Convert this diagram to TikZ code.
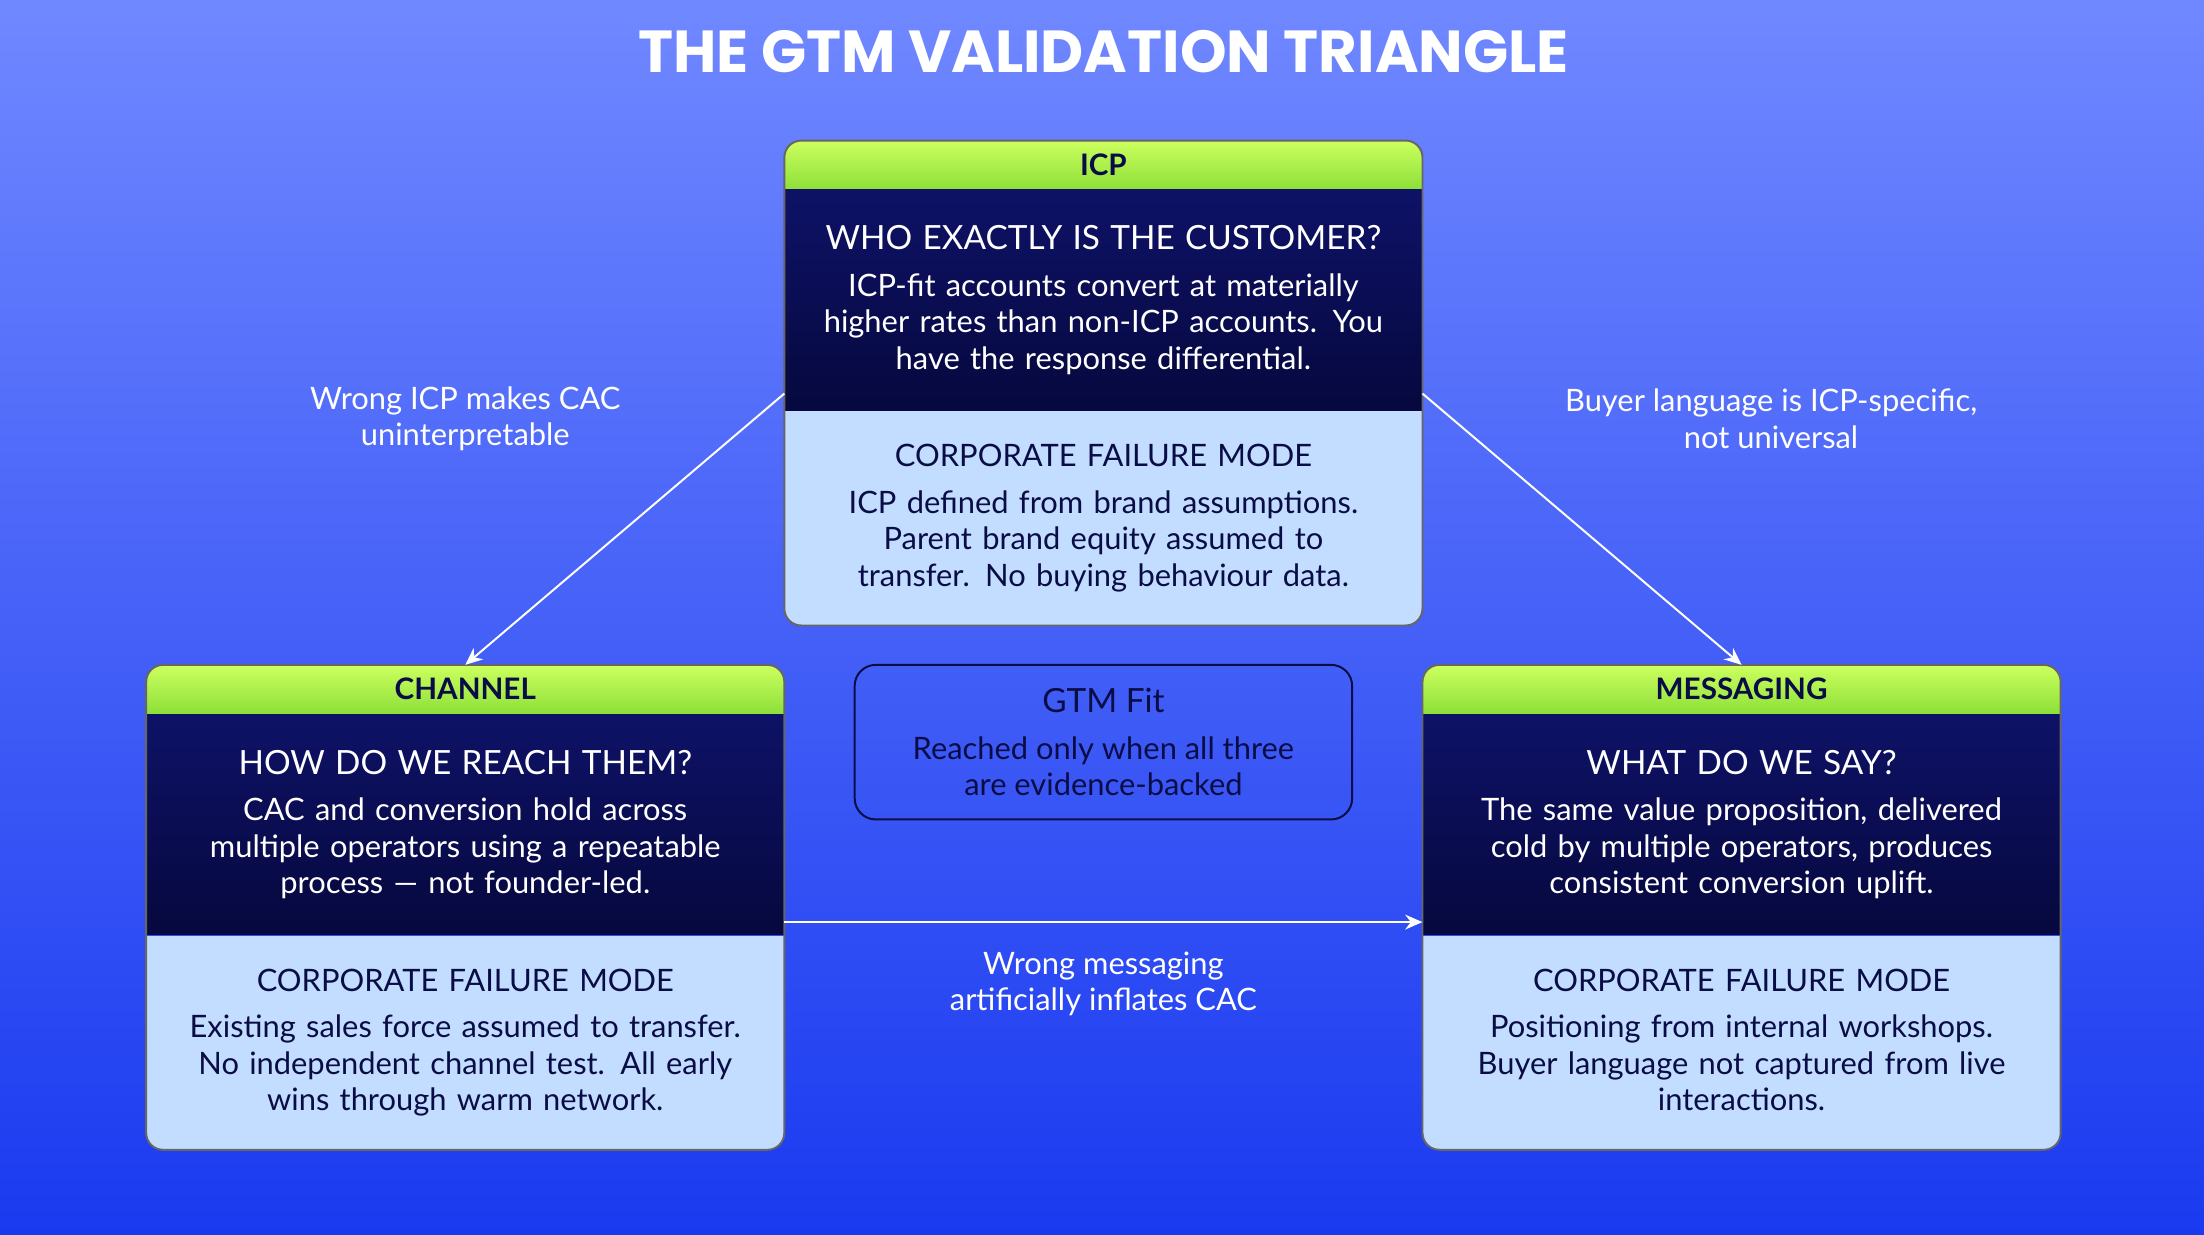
\documentclass[tikz,border=0pt]{standalone}
\usepackage{fontspec}
\setmainfont{Lato}
\newfontfamily\titlefont{Poppins}
\usetikzlibrary{arrows.meta}
\definecolor{bgtop}{HTML}{7088FF}
\definecolor{bgbot}{HTML}{1A3AF0}
\definecolor{headtop}{HTML}{CCFF5E}
\definecolor{headbot}{HTML}{8EE03A}
\definecolor{navytop}{HTML}{0E1266}
\definecolor{navybot}{HTML}{06083E}
\definecolor{pale}{HTML}{C2DDFF}
\definecolor{ink}{HTML}{0A0D45}
\tikzset{
  head/.style={anchor=north, minimum width=9.08cm, minimum height=0.68cm, inner sep=0pt,
               top color=headtop, bottom color=headbot, text=ink, font=\fontsize{12}{14}\selectfont\bfseries},
  quest/.style={anchor=north, minimum width=9.08cm, minimum height=3.14cm, inner sep=0pt,
                top color=navytop, bottom color=navybot, text=white, align=center, text width=8.8cm,
                font=\fontsize{12.5}{14.8}\selectfont},
  fail/.style={anchor=north, minimum width=9.08cm, minimum height=3.2cm, inner sep=0pt,
               fill=pale, text=ink, align=center, text width=8.8cm,
               font=\fontsize{12.5}{14.8}\selectfont},
  frame/.style={draw=black!60, line width=0.8pt, rounded corners=0.24cm},
  link/.style={draw=white, line width=0.8pt, -{Stealth[length=7pt,width=6pt]}},
  note/.style={text=white, align=center, font=\fontsize{12.5}{14.8}\selectfont}
}
% #1 name, #2 centre x, #3 top y, #4 header, #5 question, #6 body, #7 failure text
\newcommand\card[7]{%
  \begin{scope}
    \clip[rounded corners=0.24cm] (#2-227,#3) rectangle (#2+227,#3+345);
    \node[head] (#1-h) at (#2,#3) {#4};
    \node[quest] (#1-q) at (#1-h.south) {{\fontsize{13.5}{16}\selectfont #5}\\[4pt] #6};
    \node[fail] (#1-f) at (#1-q.south) {{\fontsize{12.5}{15}\selectfont CORPORATE FAILURE MODE}\\[4pt] #7\\[-8pt]\mbox{}};
  \end{scope}
  \draw[frame] (#2-227,#3) rectangle (#2+227,#3+345);
}
\begin{document}
\begin{tikzpicture}[x=0.02cm, y=-0.02cm]
  \shade[top color=bgtop, bottom color=bgbot] (0,0) rectangle (1568,878);
  \useasboundingbox (0,0) rectangle (1568,878);

  \node[text=white, font=\titlefont\fontsize{24}{26}\selectfont\bfseries] (title) at (785,37) {THE GTM VALIDATION TRIANGLE};

  \card{icp}{785}{100}{ICP}{WHO EXACTLY IS THE CUSTOMER?}
    {ICP-fit accounts convert at materially\\ higher rates than non-ICP accounts. You\\ have the response differential.}
    {ICP defined from brand assumptions.\\ Parent brand equity assumed to\\ transfer. No buying behaviour data.}
  \card{chan}{331}{473}{CHANNEL}{HOW DO WE REACH THEM?}
    {CAC and conversion hold across\\ multiple operators using a repeatable\\ process --- not founder-led.}
    {Existing sales force assumed to transfer.\\ No independent channel test. All early\\ wins through warm network.}
  \card{msg}{1239}{473}{MESSAGING}{WHAT DO WE SAY?}
    {The same value proposition, delivered\\ cold by multiple operators, produces\\ consistent conversion uplift.}
    {Positioning from internal workshops.\\ Buyer language not captured from live\\ interactions.}

  \node[draw=ink, line width=0.8pt, rounded corners=0.3cm, minimum width=7.08cm, minimum height=2.2cm,
        align=center, text=ink, font=\fontsize{12.5}{14.8}\selectfont] (fit) at (785,528)
        {{\fontsize{13.5}{16}\selectfont GTM Fit}\\[4pt] Reached only when all three\\ are evidence-backed};

  \coordinate (icp-l) at (558,280);
  \coordinate (icp-r) at (1012,280);
  \coordinate (chan-r) at (558,656);
  \coordinate (msg-l) at (1012,656);
  \draw[link] (icp-l) -- (chan-h.north);
  \draw[link] (icp-r) -- (msg-h.north);
  \draw[link] (chan-r) -- (msg-l);

  \node[note] (n1) at (331,298) {Wrong ICP makes CAC\\ uninterpretable};
  \node[note] (n2) at (1260,298) {Buyer language is ICP-specific,\\ not universal};
  \node[note] (n3) at (785,700) {Wrong messaging\\ artificially inflates CAC};
\end{tikzpicture}
\end{document}
